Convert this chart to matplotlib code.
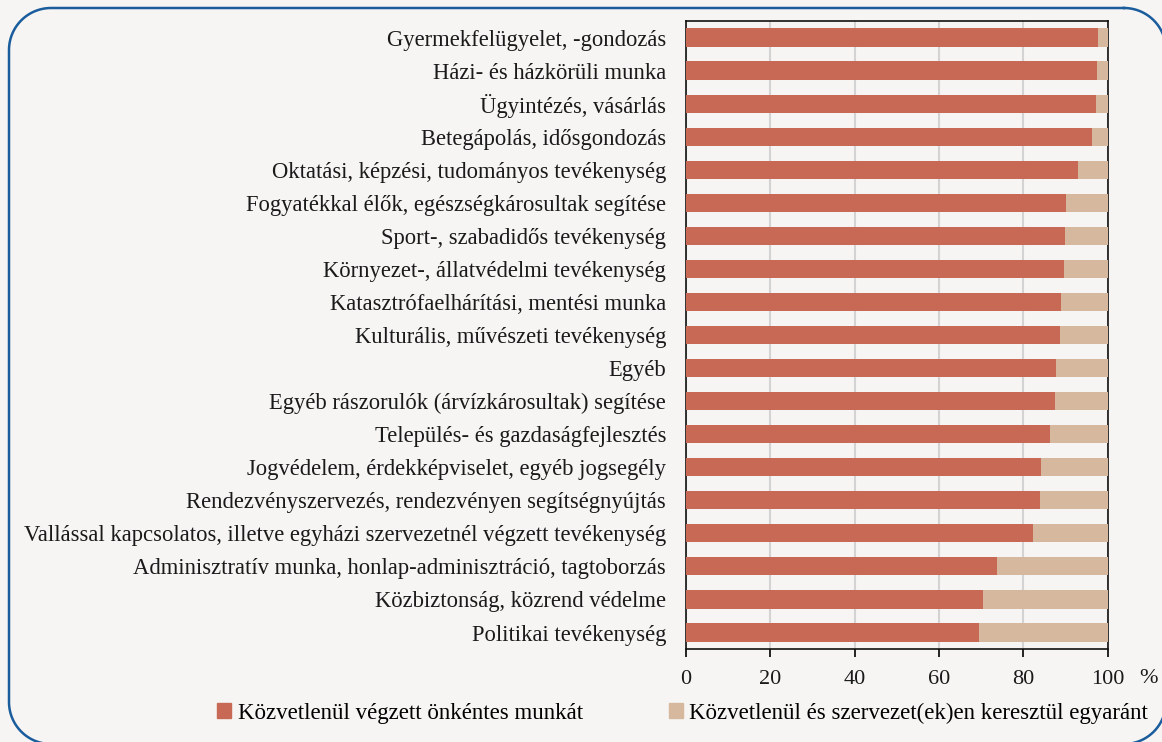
import matplotlib.pyplot as plt
import numpy as np
from matplotlib.patches import Patch

# tevékenységi területek (felülről lefelé)
categories = [
    "Gyermekfelügyelet, -gondozás",
    "Házi- és házkörüli munka",
    "Ügyintézés, vásárlás",
    "Betegápolás, idősgondozás",
    "Oktatási, képzési, tudományos tevékenység",
    "Fogyatékkal élők, egészségkárosultak segítése",
    "Sport-, szabadidős tevékenység",
    "Környezet-, állatvédelmi tevékenység",
    "Katasztrófaelhárítási, mentési munka",
    "Kulturális, művészeti tevékenység",
    "Egyéb",
    "Egyéb rászorulók (árvízkárosultak) segítése",
    "Település- és gazdaságfejlesztés",
    "Jogvédelem, érdekképviselet, egyéb jogsegély",
    "Rendezvényszervezés, rendezvényen segítségnyújtás",
    "Vallással kapcsolatos, illetve egyházi szervezetnél végzett tevékenység",
    "Adminisztratív munka, honlap-adminisztráció, tagtoborzás",
    "Közbiztonság, közrend védelme",
    "Politikai tevékenység",
]
kozvetlen = [97.6, 97.4, 97.2, 96.2, 92.9, 90.1, 89.9, 89.6, 88.9, 88.6,
             87.7, 87.5, 86.3, 84.2, 83.9, 82.2, 73.8, 70.4, 69.4]
mindketto = [100 - v for v in kozvetlen]
series_names = ["Közvetlenül végzett önkéntes munkát",
                "Közvetlenül és szervezet(ek)en keresztül egyaránt"]
xticks = [0, 20, 40, 60, 80, 100]

c_red = "#c86955"
c_tan = "#d6b89f"
bg = "#f6f5f3"
txt = "#1a1a1a"

plt.rcParams['font.family'] = ['Liberation Serif', 'DejaVu Serif']

fig = plt.figure(figsize=(11.62, 7.42), dpi=100, facecolor=bg)
ax = fig.add_axes([0.590, 0.1253, 0.3635, 0.8464])
ax.set_facecolor(bg)

y = np.arange(len(categories))
ax.barh(y, kozvetlen, height=0.55, color=c_red, zorder=3)
ax.barh(y, mindketto, left=kozvetlen, height=0.55, color=c_tan, zorder=3)

ax.set_ylim(len(categories) - 0.5, -0.5)
ax.set_xlim(0, 100)
ax.set_yticks(y)
ax.set_yticklabels(categories, fontsize=16.3, color=txt)
ax.tick_params(axis='y', length=0, pad=14)
ax.set_xticks(xticks)
ax.set_xticklabels([str(t) for t in xticks], fontsize=16, color=txt)
ax.tick_params(axis='x', direction='out', length=6, width=1.2, pad=9)
ax.grid(axis='x', color="#d3d3d3", linewidth=1.5, zorder=0)
for s in ax.spines.values():
    s.set_linewidth(1.2)
    s.set_color("#111111")
ax.text(1.074, -0.0315, "%", transform=ax.transAxes, fontsize=16,
        color=txt, ha='left', va='top')

handles = [Patch(color=c_red), Patch(color=c_tan)]
fig.legend(handles, series_names, loc='center', bbox_to_anchor=(0.5875, 0.039),
           ncol=2, frameon=False, fontsize=16.5, handlelength=0.6,
           handleheight=0.6, handletextpad=0.3, columnspacing=3.75)

# lekerekített keret pixelben (kép koordináták, y lefelé), sokszögként
x0, x1, y0, y1, r = 9, 1166, 8, 744, 42
t = np.linspace(0, np.pi / 2, 30)
fx, fy = [], []
for cx, cy, a0 in [(x1 - r, y0 + r, -np.pi / 2), (x1 - r, y1 - r, 0),
                   (x0 + r, y1 - r, np.pi / 2), (x0 + r, y0 + r, np.pi)]:
    fx.extend(cx + r * np.cos(a0 + t))
    fy.extend(cy + r * np.sin(a0 + t))
fx.append(fx[0])
fy.append(fy[0])
fx = np.array(fx) / 100
fy = (742 - np.array(fy)) / 100
fig.add_artist(plt.Line2D(fx, fy, transform=fig.dpi_scale_trans,
                          color="#1a5c9c", linewidth=1.8))

fig.savefig("out.png", dpi=100, facecolor=bg)
